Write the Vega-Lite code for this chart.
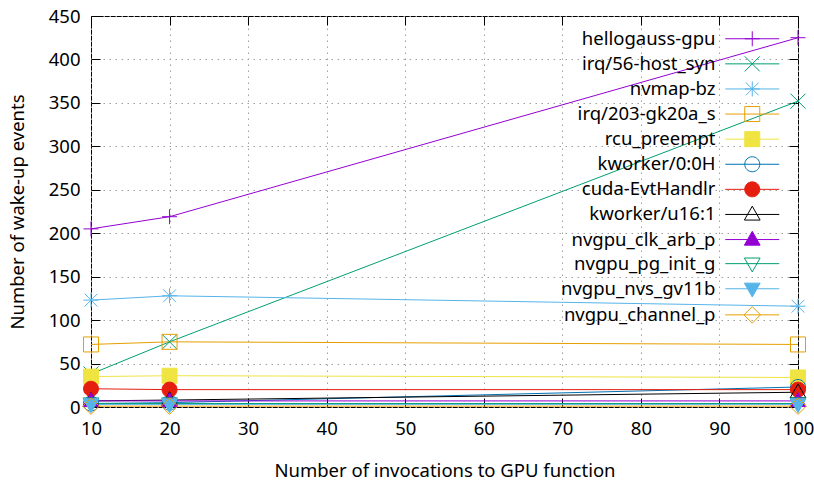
{
  "$schema": "https://vega.github.io/schema/vega-lite/v6.json",
  "width": 707,
  "height": 391,
  "autosize": "none",
  "padding": {"left": 91, "top": 16, "right": 16, "bottom": 77},
  "background": "white",
  "config": {
    "font": "Noto Sans",
    "view": {"stroke": "black", "strokeWidth": 1},
    "scale": {"continuousPadding": 0},
    "axis": {
      "labelFont": "Noto Sans", "labelFontSize": 18.5, "labelColor": "black", "labelFlush": false,
      "titleFont": "Noto Sans", "titleFontSize": 18.5, "titleFontWeight": "normal", "titleColor": "black",
      "domain": false, "tickColor": "black", "tickSize": -9, "tickWidth": 1,
      "gridColor": "#a0a0a0", "gridDash": [1.5, 4.5], "gridWidth": 1, "gridOpacity": 1
    },
    "legend": {
      "orient": "none", "legendX": 652, "legendY": 13.5, "padding": 0,
      "symbolSize": 225, "symbolStrokeWidth": 1, "symbolOffset": 0,
      "labelAlign": "right", "labelOffset": -46, "labelFont": "Noto Sans", "labelFontSize": 18.5, "labelColor": "black",
      "rowPadding": 5.1, "labelLimit": 300
    }
  },
  "data": {"values": [
    {"series": "hellogauss-gpu", "x": 10, "y": 205}, {"series": "hellogauss-gpu", "x": 20, "y": 219}, {"series": "hellogauss-gpu", "x": 100, "y": 425},
    {"series": "irq/56-host_syn", "x": 10, "y": 38}, {"series": "irq/56-host_syn", "x": 20, "y": 75}, {"series": "irq/56-host_syn", "x": 100, "y": 352},
    {"series": "nvmap-bz", "x": 10, "y": 123}, {"series": "nvmap-bz", "x": 20, "y": 128}, {"series": "nvmap-bz", "x": 100, "y": 116},
    {"series": "irq/203-gk20a_s", "x": 10, "y": 72}, {"series": "irq/203-gk20a_s", "x": 20, "y": 75}, {"series": "irq/203-gk20a_s", "x": 100, "y": 72},
    {"series": "rcu_preempt", "x": 10, "y": 35}, {"series": "rcu_preempt", "x": 20, "y": 36}, {"series": "rcu_preempt", "x": 100, "y": 34},
    {"series": "kworker/0:0H", "x": 10, "y": 4}, {"series": "kworker/0:0H", "x": 20, "y": 5}, {"series": "kworker/0:0H", "x": 100, "y": 23},
    {"series": "cuda-EvtHandlr", "x": 10, "y": 21}, {"series": "cuda-EvtHandlr", "x": 20, "y": 20}, {"series": "cuda-EvtHandlr", "x": 100, "y": 20},
    {"series": "kworker/u16:1", "x": 10, "y": 7}, {"series": "kworker/u16:1", "x": 20, "y": 8}, {"series": "kworker/u16:1", "x": 100, "y": 17},
    {"series": "nvgpu_clk_arb_p", "x": 10, "y": 7}, {"series": "nvgpu_clk_arb_p", "x": 20, "y": 7}, {"series": "nvgpu_clk_arb_p", "x": 100, "y": 7},
    {"series": "nvgpu_pg_init_g", "x": 10, "y": 4}, {"series": "nvgpu_pg_init_g", "x": 20, "y": 4}, {"series": "nvgpu_pg_init_g", "x": 100, "y": 4},
    {"series": "nvgpu_nvs_gv11b", "x": 10, "y": 3}, {"series": "nvgpu_nvs_gv11b", "x": 20, "y": 3}, {"series": "nvgpu_nvs_gv11b", "x": 100, "y": 3},
    {"series": "nvgpu_channel_p", "x": 10, "y": 1}, {"series": "nvgpu_channel_p", "x": 20, "y": 1}, {"series": "nvgpu_channel_p", "x": 100, "y": 1}
  ]},
  "resolve": {"axis": {"x": "independent", "y": "independent"}},
  "layer": [
    {
      "mark": {"type": "line", "strokeWidth": 1},
      "encoding": {
        "x": {"field": "x", "type": "quantitative", "scale": {"domain": [10, 100], "nice": false, "padding": 0, "zero": false},
              "axis": {"orient": "top", "labels": false, "title": null, "grid": false, "values": [10,20,30,40,50,60,70,80,90,100]}},
        "y": {"field": "y", "type": "quantitative", "scale": {"domain": [0, 450], "nice": false, "padding": 0},
              "axis": {"orient": "right", "labels": false, "title": null, "grid": false, "values": [0,50,100,150,200,250,300,350,400,450]}},
        "color": {"field": "series", "type": "nominal",
          "legend": {
            "title": null,
            "encoding": {"symbols": {
              "shape": {"value": {"expr": "'M-3.6,0L3.6,0' + scale('shape', datum.value)"}},
              "fill": {"value": {"expr": "scale('fill', datum.value)"}}
            }}
          }
        }
      }
    },
    {
      "mark": {"type": "point", "filled": false, "size": 225, "strokeWidth": 1, "opacity": 1},
      "encoding": {
        "x": {"field": "x", "type": "quantitative",
              "axis": {"orient": "bottom", "title": "Number of invocations to GPU function", "grid": true, "values": [10,20,30,40,50,60,70,80,90,100], "labelPadding": 21, "titlePadding": 24}},
        "y": {"field": "y", "type": "quantitative",
              "axis": {"orient": "left", "title": "Number of wake-up events", "grid": true, "values": [0,50,100,150,200,250,300,350,400,450], "labelPadding": 20, "titlePadding": 21}},
        "color": {"field": "series", "type": "nominal",
          "scale": {
            "domain": ["hellogauss-gpu","irq/56-host_syn","nvmap-bz","irq/203-gk20a_s","rcu_preempt","kworker/0:0H","cuda-EvtHandlr","kworker/u16:1","nvgpu_clk_arb_p","nvgpu_pg_init_g","nvgpu_nvs_gv11b","nvgpu_channel_p"],
            "range": ["#9400d3","#009e73","#56b4e9","#e69f00","#f0e442","#0072b2","#e51e10","#000000","#9400d3","#009e73","#56b4e9","#e69f00"]
          },
          "legend": {
            "title": null,
            "encoding": {"symbols": {
              "shape": {"value": {"expr": "'M-3.6,0L3.6,0' + scale('shape', datum.value)"}},
              "fill": {"value": {"expr": "scale('fill', datum.value)"}}
            }}
          }
        },
        "fill": {"field": "series", "type": "nominal", "legend": null,
          "scale": {
            "domain": ["nvgpu_channel_p","nvgpu_nvs_gv11b","nvgpu_pg_init_g","nvgpu_clk_arb_p","kworker/u16:1","cuda-EvtHandlr","kworker/0:0H","rcu_preempt","irq/203-gk20a_s","nvmap-bz","irq/56-host_syn","hellogauss-gpu"],
            "range": ["transparent","#56b4e9","transparent","#9400d3","transparent","#e51e10","transparent","#f0e442","transparent","transparent","transparent","transparent"]
          }
        },
        "shape": {"field": "series", "type": "nominal", "legend": null,
          "scale": {
            "domain": ["nvgpu_channel_p","nvgpu_nvs_gv11b","nvgpu_pg_init_g","nvgpu_clk_arb_p","kworker/u16:1","cuda-EvtHandlr","kworker/0:0H","rcu_preempt","irq/203-gk20a_s","nvmap-bz","irq/56-host_syn","hellogauss-gpu","zz-unused"],
            "range": [
              "M0,-1.1L1.1,0L0,1.1L-1.1,0Z",
              "M0,1.1L1.05,-0.75L-1.05,-0.75Z",
              "M0,1.1L1.05,-0.75L-1.05,-0.75Z",
              "M0,-1.1L1.05,0.75L-1.05,0.75Z",
              "M0,-1.1L1.05,0.75L-1.05,0.75Z",
              "M1,0A1,1,0,1,1,-1,0A1,1,0,1,1,1,0Z",
              "M1,0A1,1,0,1,1,-1,0A1,1,0,1,1,1,0Z",
              "M-1,-1L1,-1L1,1L-1,1Z",
              "M-1,-1L1,-1L1,1L-1,1Z",
              "M-1,0L1,0M0,-1L0,1M-0.85,-0.85L0.85,0.85M-0.85,0.85L0.85,-0.85",
              "M-1,-1L1,1M-1,1L1,-1",
              "M-1,0L1,0M0,-1L0,1",
              "M0,0"
            ]
          }
        }
      }
    }
  ]
}
